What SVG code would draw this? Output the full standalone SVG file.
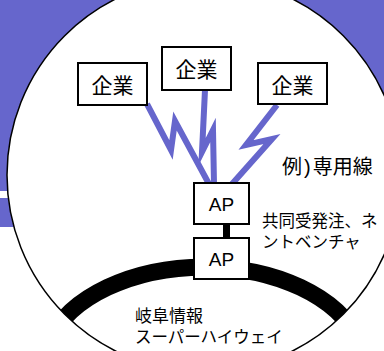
<svg xmlns="http://www.w3.org/2000/svg" width="384" height="351" viewBox="0 0 384 351">
<style>
.box{fill:#fff;stroke:#000;stroke-width:2}
.jp{font-family:"Liberation Sans","Noto Sans CJK JP",sans-serif;fill:#000}
.zig{fill:none;stroke:#6666cc;stroke-width:6;stroke-linejoin:miter;stroke-miterlimit:10}
</style>
<defs>
<clipPath id="inCircle"><circle cx="204" cy="175" r="197"/></clipPath>
</defs>
<g id="background">
<rect x="0" y="0" width="384" height="227" fill="#6666cc"/>
<rect x="0" y="191" width="384" height="7" fill="#fff"/>
<circle cx="204" cy="175" r="197" fill="#fff" stroke="#000" stroke-width="1.5"/>
</g>
<g id="connectors">
<path class="zig" d="M147,104 L171,150 L175,121 L209,184"/>
<path class="zig" d="M205,90 L202,152 L213,130 L214,184"/>
<path class="zig" d="M277,105 L246,145 L272,139 L232,184"/>
<g clip-path="url(#inCircle)">
<path d="M50,340 A160,100 0 0 1 358,340" fill="none" stroke="#000" stroke-width="17"/>
</g>
<rect x="223" y="224" width="7" height="14" fill="#000"/>
</g>
<g id="kigyo1">
<rect class="box" x="78" y="63" width="69" height="42"/>
<text class="jp" x="112.5" y="93" font-size="21" text-anchor="middle">企業</text>
</g>
<g id="kigyo2">
<rect class="box" x="162" y="47" width="69" height="43"/>
<text class="jp" x="196.5" y="77" font-size="21" text-anchor="middle">企業</text>
</g>
<g id="kigyo3">
<rect class="box" x="258" y="63" width="69" height="41"/>
<text class="jp" x="292.5" y="93" font-size="21" text-anchor="middle">企業</text>
</g>
<g id="ap1">
<rect class="box" x="194" y="183" width="55" height="41"/>
<text class="jp" x="221.5" y="211" font-size="19" text-anchor="middle">AP</text>
</g>
<g id="ap2">
<rect class="box" x="194" y="238" width="55" height="41"/>
<text class="jp" x="221.5" y="266" font-size="19" text-anchor="middle">AP</text>
</g>
<g id="labels">
<text class="jp" x="282" y="174" font-size="20">例<tspan dx="2">)</tspan><tspan dx="2">専用線</tspan></text>
<text class="jp" x="262" y="227" font-size="16.5">共同受発注、ネ</text>
<text class="jp" x="262" y="248" font-size="16.5">ントベンチャ</text>
<text class="jp" x="135" y="322" font-size="17">岐阜情報</text>
<text class="jp" x="135" y="343" font-size="16.5">スーパーハイウェイ</text>
</g>
</svg>
